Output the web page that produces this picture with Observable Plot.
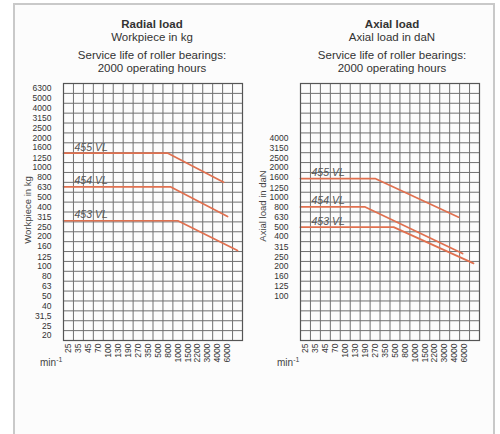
<!DOCTYPE html>
<html><head><meta charset="utf-8">
<script src="https://cdn.jsdelivr.net/npm/d3@7"></script>
<script src="https://cdn.jsdelivr.net/npm/@observablehq/plot@0.6"></script>
<style>
body{margin:0;background:#fff;width:500px;height:434px;overflow:hidden;position:relative;font-family:"Liberation Sans",Arial,sans-serif;}
#panel{position:absolute;left:13px;top:3px;width:478px;height:450px;border:2px solid #c9c9c9;border-bottom:none;background:#fcfcfc;}
.t{position:absolute;width:250px;text-align:center;color:#333;font-size:11.5px;}
.yl{position:absolute;font-size:9.5px;color:#444;white-space:nowrap;transform:translate(-50%,-50%) rotate(-90deg);}
.mn{position:absolute;font-size:10px;color:#444;white-space:nowrap;}
.mn sup{font-size:7px;}
.plot{position:absolute;top:75px;}
</style></head><body>
<div id="panel"></div>
<div class="t" style="left:27px;top:18px;font-weight:bold">Radial load</div>
<div class="t" style="left:27px;top:31px">Workpiece in kg</div>
<div class="t" style="left:27px;top:49px">Service life of roller bearings:</div>
<div class="t" style="left:27px;top:62px">2000 operating hours</div>
<div class="t" style="left:267px;top:18px;font-weight:bold">Axial load</div>
<div class="t" style="left:267px;top:31px">Axial load in daN</div>
<div class="t" style="left:267px;top:49px">Service life of roller bearings:</div>
<div class="t" style="left:267px;top:62px">2000 operating hours</div>
<div class="yl" style="left:27px;top:210px">Workpiece in kg</div>
<div class="yl" style="left:262px;top:206px">Axial load in daN</div>
<div class="mn" style="left:40px;top:356px">min<sup>-1</sup></div>
<div class="mn" style="left:277px;top:356px">min<sup>-1</sup></div>
<div id="left" class="plot" style="left:0px"></div>
<div id="right" class="plot" style="left:250px"></div>
<script>
// speed categories (min-1), evenly spaced columns
const speeds = ["25","35","45","70","100","130","190","270","350","500","800","1000","1500","2200","3000","4000","6000"];
// y tick labels
const radialTicks = [20,25,31.5,40,50,63,80,100,125,160,200,250,315,400,500,630,800,1000,1250,1600,2000,2500,3150,4000,5000,6300];
const axialTicks = [100,125,160,200,250,315,400,500,630,800,1000,1250,1600,2000,2500,3150,4000];
const series = ["455 VL","454 VL","453 VL"];
// Radial load (kg)
const radialFlat = [1400, 640, 290];
const radialBreakRpm = [800, 850, 1000];
const radialEndRpm = [5200, 6000, 8000];
const radialEndLoad = [710, 320, 145];
// Axial load (daN)
const axialFlat = [1550, 800, 500];
const axialBreakRpm = [270, 190, 480];
const axialEndRpm = [4800, 5600, 7800];
const axialEndLoad = [630, 270, 215];

const ORANGE = "#e0704f";
const FONT = "'Liberation Sans',Arial,sans-serif";
// rpm -> column position (columns centred on the speed labels)
const col = d3.scaleLinear().domain(speeds.map(Number)).range(speeds.map((_, i) => i + 0.5));
const NCOL = 18, NROW = 26;

function chart({ticks, bottomRow, flat, brk, endRpm, endLoad, ml, mr}) {
  const lo = bottomRow / Math.pow(10, 0.05);
  const hi = lo * Math.pow(10, NROW / 10);
  const rows = d3.range(NROW + 1).map(k => lo * Math.pow(10, k / 10));
  const cols = d3.range(NCOL + 1);
  const pts = series.flatMap((s, i) => [
    {s, x: 0, y: flat[i]},
    {s, x: col(brk[i]), y: flat[i]},
    {s, x: col(endRpm[i]), y: endLoad[i]}
  ]);
  return Plot.plot({
    width: 250, height: 310,
    marginLeft: ml, marginRight: mr, marginTop: 8, marginBottom: 45,
    style: {fontFamily: FONT, fontSize: "8.5px", color: "#333", background: "transparent"},
    x: {type: "linear", domain: [0, NCOL], axis: null},
    y: {type: "log", domain: [lo, hi], axis: null},
    marks: [
      Plot.ruleX(cols, {x: d => d, stroke: "#707070", strokeWidth: 1}),
      Plot.ruleY(rows, {y: d => d, stroke: "#707070", strokeWidth: 1}),
      Plot.line(pts, {x: "x", y: "y", z: "s", stroke: ORANGE, strokeWidth: 1.7}),
      Plot.text(series.map((s, i) => ({s, y: flat[i]})), {
        frameAnchor: "left", y: "y", text: "s", dx: 11, dy: -6, textAnchor: "start",
        fontStyle: "italic", fontSize: 10.5, fill: "#555"
      }),
      Plot.text(ticks, {
        y: d => d, frameAnchor: "left", dx: -12, textAnchor: "end", fill: "#333", fontSize: 8.5,
        text: d => String(d).replace(".", ",")
      }),
      Plot.axisX(d3.range(speeds.length).map(i => i + 0.5), {
        tickSize: 0, tickPadding: 3, tickRotate: -90, label: null, fontSize: 8.5,
        tickFormat: d => speeds[Math.round(d - 0.5)]
      }),
      Plot.frame({stroke: "#555", strokeWidth: 1.2})
    ]
  });
}

document.getElementById("left").append(chart({
  ticks: radialTicks, bottomRow: 20, flat: radialFlat, brk: radialBreakRpm,
  endRpm: radialEndRpm, endLoad: radialEndLoad, ml: 63, mr: 8
}));
document.getElementById("right").append(chart({
  ticks: axialTicks, bottomRow: 40, flat: axialFlat, brk: axialBreakRpm,
  endRpm: axialEndRpm, endLoad: axialEndLoad, ml: 50, mr: 21
}));
</script>
</body></html>
